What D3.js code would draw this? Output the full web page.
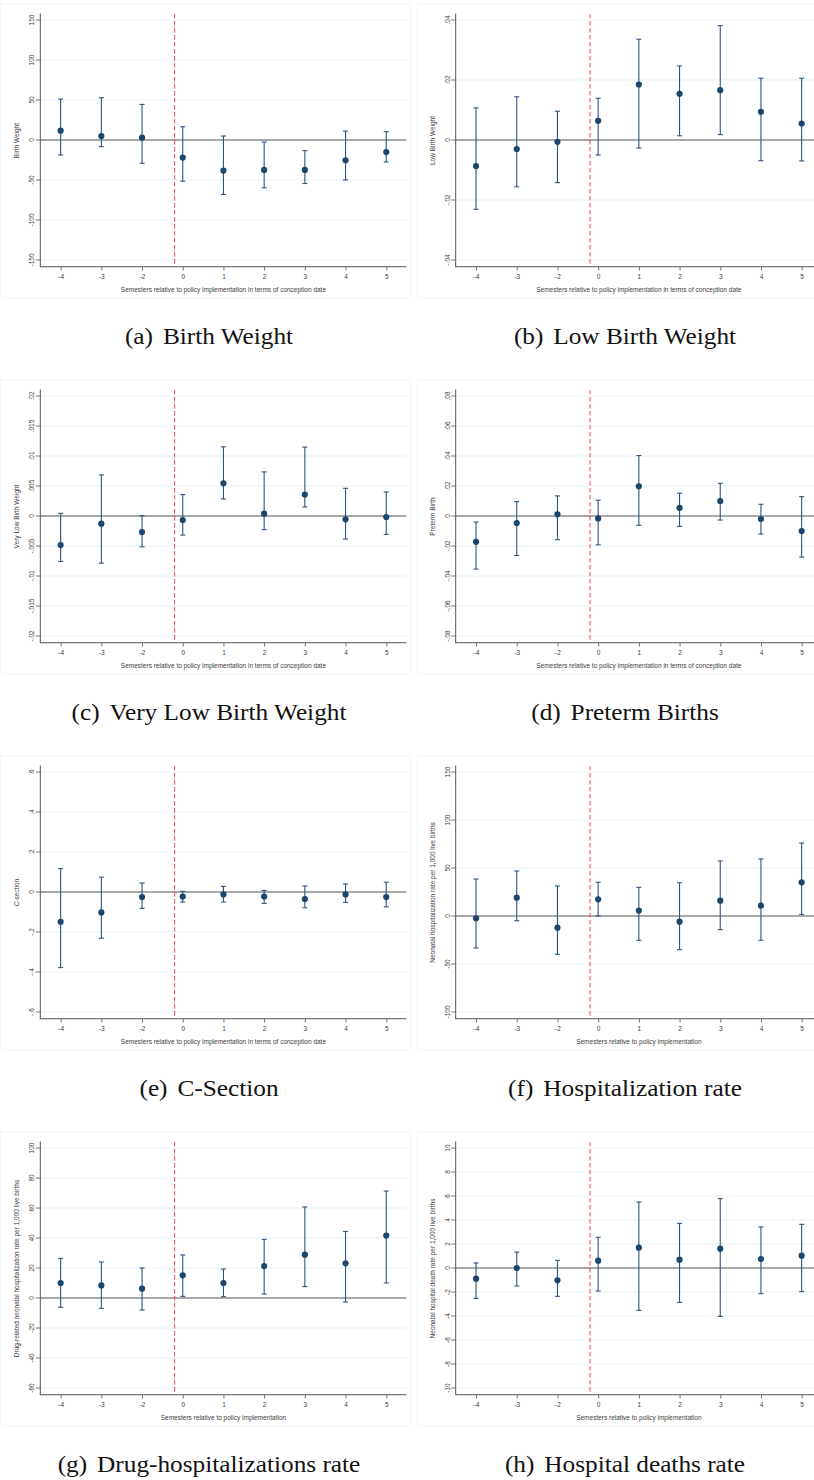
<!DOCTYPE html>
<html>
<head>
<meta charset="utf-8">
<script src="https://cdn.jsdelivr.net/npm/d3@7/dist/d3.min.js"></script>
<style>
  body { margin: 0; background: #fff; }
  svg text { font-family: "Liberation Sans", Arial, sans-serif; fill: #3d3d3d; }
  svg text.caption { font-family: "Liberation Serif", "Times New Roman", serif; fill: #111; }
</style>
</head>
<body>
<div id="fig"></div>
<script>
// event time categories (semesters)
let semesters = ["-4", "-3", "-2", "0", "1", "2", "3", "4", "5"];

// (a) Birth weight
let bwEst = [11.6, 5.0, 2.9, -22.0, -38.2, -37.4, -37.4, -25.3, -15.0];
let bwLo  = [-18.7, -8.3, -29.1, -51.5, -68.1, -59.8, -54.4, -49.9, -27.4];
let bwHi  = [51.1, 52.8, 44.5, 16.6, 5.0, -2.5, -13.3, 11.2, 10.4];
let bwTicks = [-150, -100, -50, 0, 50, 100, 150];
let bwLabels = ["-150", "-100", "-50", "0", "50", "100", "150"];

// (b) Low birth weight
let lbwEst = [-0.0087, -0.0030, -0.0006, 0.0064, 0.0185, 0.0154, 0.0166, 0.0094, 0.0055];
let lbwLo  = [-0.0231, -0.0156, -0.0142, -0.0050, -0.0027, 0.0014, 0.0018, -0.0069, -0.0070];
let lbwHi  = [0.0107, 0.0144, 0.0096, 0.0139, 0.0336, 0.0247, 0.0381, 0.0206, 0.0206];
let lbwTicks = [-0.04, -0.02, 0, 0.02, 0.04];
let lbwLabels = ["-.04", "-.02", "0", ".02", ".04"];

// (c) Very low birth weight
let vlbwEst = [-0.00485, -0.00128, -0.00267, -0.00067, 0.00546, 0.00039, 0.00357, -0.00056, -0.00017];
let vlbwLo  = [-0.00758, -0.00786, -0.00513, -0.00318, 0.00284, -0.00228, 0.00150, -0.00384, -0.00306];
let vlbwHi  = [0.00045, 0.00685, 0.00006, 0.00357, 0.01153, 0.00735, 0.01148, 0.00462, 0.00401];
let vlbwTicks = [-0.02, -0.015, -0.01, -0.005, 0, 0.005, 0.01, 0.015, 0.02];
let vlbwLabels = ["-.02", "-.015", "-.01", "-.005", "0", ".005", ".01", ".015", ".02"];

// (d) Preterm births
let ptEst = [-0.0172, -0.0047, 0.0011, -0.0016, 0.0198, 0.0054, 0.0100, -0.0020, -0.0100];
let ptLo  = [-0.0354, -0.0263, -0.0158, -0.0192, -0.0062, -0.0069, -0.0027, -0.0120, -0.0274];
let ptHi  = [-0.0040, 0.0096, 0.0134, 0.0105, 0.0403, 0.0152, 0.0218, 0.0078, 0.0129];
let ptTicks = [-0.08, -0.06, -0.04, -0.02, 0, 0.02, 0.04, 0.06, 0.08];
let ptLabels = ["-.08", "-.06", "-.04", "-.02", "0", ".02", ".04", ".06", ".08"];

// (e) C-section
let csEst = [-0.149, -0.102, -0.025, -0.023, -0.012, -0.023, -0.035, -0.012, -0.025];
let csLo  = [-0.378, -0.231, -0.082, -0.050, -0.050, -0.057, -0.079, -0.052, -0.074];
let csHi  = [0.117, 0.074, 0.045, 0.003, 0.028, 0.008, 0.030, 0.040, 0.049];
let csTicks = [-0.6, -0.4, -0.2, 0, 0.2, 0.4, 0.6];
let csLabels = ["-.6", "-.4", "-.2", "0", ".2", ".4", ".6"];

// (f) Hospitalization rate
let hospEst = [-2.4, 19.1, -12.2, 17.4, 5.6, -5.9, 16.0, 10.8, 35.1];
let hospLo  = [-33.3, -4.9, -39.9, 0.0, -25.3, -35.1, -14.2, -25.3, 1.7];
let hospHi  = [38.5, 46.9, 31.3, 35.1, 29.9, 34.7, 57.3, 59.4, 76.0];
let hospTicks = [-100, -50, 0, 50, 100, 150];
let hospLabels = ["-100", "-50", "0", "50", "100", "150"];

// (g) Drug-related hospitalization rate
let drugEst = [10.0, 8.4, 6.2, 15.1, 10.0, 21.3, 28.9, 23.1, 41.6];
let drugLo  = [-6.2, -6.9, -8.0, 1.1, 0.9, 2.7, 7.6, -2.7, 10.0];
let drugHi  = [26.4, 24.0, 20.0, 28.7, 19.3, 39.1, 60.7, 44.4, 71.3];
let drugTicks = [-60, -40, -20, 0, 20, 40, 60, 80, 100];
let drugLabels = ["-60", "-40", "-20", "0", "20", "40", "60", "80", "100"];

// (h) Hospital deaths rate
let deathEst = [-0.89, 0.0, -1.03, 0.61, 1.69, 0.69, 1.61, 0.75, 1.03];
let deathLo  = [-2.53, -1.50, -2.36, -1.92, -3.53, -2.86, -4.03, -2.14, -1.97];
let deathHi  = [0.42, 1.33, 0.64, 2.56, 5.50, 3.72, 5.78, 3.42, 3.64];
let deathTicks = [-10, -8, -6, -4, -2, 0, 2, 4, 6, 8, 10];
let deathLabels = ["-10", "-8", "-6", "-4", "-2", "0", "2", "4", "6", "8", "10"];

let xTitleLong = "Semesters relative to policy implementation in terms of conception date";
let xTitleShort = "Semesters relative to policy implementation";

let panels = [
  {est: bwEst, lo: bwLo, hi: bwHi, ticks: bwTicks, labels: bwLabels, ytitle: "Birth Weight", xtitle: xTitleLong, tag: "(a)", caption: "Birth Weight"},
  {est: lbwEst, lo: lbwLo, hi: lbwHi, ticks: lbwTicks, labels: lbwLabels, ytitle: "Low Birth Weight", xtitle: xTitleLong, tag: "(b)", caption: "Low Birth Weight"},
  {est: vlbwEst, lo: vlbwLo, hi: vlbwHi, ticks: vlbwTicks, labels: vlbwLabels, ytitle: "Very Low Birth Weight", xtitle: xTitleLong, tag: "(c)", caption: "Very Low Birth Weight"},
  {est: ptEst, lo: ptLo, hi: ptHi, ticks: ptTicks, labels: ptLabels, ytitle: "Preterm Birth", xtitle: xTitleLong, tag: "(d)", caption: "Preterm Births"},
  {est: csEst, lo: csLo, hi: csHi, ticks: csTicks, labels: csLabels, ytitle: "C-section", xtitle: xTitleLong, tag: "(e)", caption: "C-Section"},
  {est: hospEst, lo: hospLo, hi: hospHi, ticks: hospTicks, labels: hospLabels, ytitle: "Neonatal hospitalization rate per 1,000 live births", xtitle: xTitleShort, tag: "(f)", caption: "Hospitalization rate"},
  {est: drugEst, lo: drugLo, hi: drugHi, ticks: drugTicks, labels: drugLabels, ytitle: "Drug-related neonatal hospitalization rate per 1,000 live births", xtitle: xTitleShort, tag: "(g)", caption: "Drug-hospitalizations rate"},
  {est: deathEst, lo: deathLo, hi: deathHi, ticks: deathTicks, labels: deathLabels, ytitle: "Neonatal hospital death rate per 1,000 live births", xtitle: xTitleShort, tag: "(h)", caption: "Hospital deaths rate"}
];

let navy = "#1a476f";
let colLeft = [40.3, 455.7];
let captionX = [209, 625];
let rowTop = [0, 376, 752, 1128];
let plotW = 366.3;

//SVG
let svg = d3.select("#fig")
  .append("svg")
    .attr("width", 814)
    .attr("height", 1480);

svg.append("rect").attr("width", 814).attr("height", 1480).attr("fill", "#fff");

panels.forEach(function(p, i) {
  let col = i % 2, row = Math.floor(i / 2);
  let top = rowTop[row];

  // faint graph region outline
  svg.append("rect")
    .attr("x", col === 0 ? 0.5 : 417.5)
    .attr("y", top + 3.5)
    .attr("width", col === 0 ? 410 : 420)
    .attr("height", 294.5)
    .attr("fill", "none")
    .attr("stroke", "#f3f3f3")
    .attr("stroke-width", 0.8);

  let g = svg.append("g")
    .attr("transform", "translate(" + colLeft[col] + "," + top + ")");

  // X scale (categorical, evenly spaced)
  let x = d3.scalePoint()
    .domain(semesters)
    .range([0, plotW])
    .padding(0.5);

  // Y scale
  let y = d3.scaleLinear()
    .domain([p.ticks[0], p.ticks[p.ticks.length - 1]])
    .range([260, 20]);

  // gridlines
  g.append("g").selectAll("line")
    .data(p.ticks.filter(function(t) { return t !== 0; }))
    .enter().append("line")
      .attr("x1", 0).attr("x2", plotW)
      .attr("y1", function(d) { return y(d); })
      .attr("y2", function(d) { return y(d); })
      .attr("stroke", "#e3edf1")
      .attr("stroke-width", 0.8);

  // zero line
  g.append("line")
    .attr("x1", 0).attr("x2", plotW)
    .attr("y1", y(0)).attr("y2", y(0))
    .attr("stroke", "#3f3f3f")
    .attr("stroke-width", 0.9);

  // Y axis
  let yAxis = g.append("g")
    .call(d3.axisLeft(y)
      .tickValues(p.ticks)
      .tickFormat(function(d, k) { return p.labels[k]; })
      .tickSize(4.5)
      .tickSizeOuter(0));
  yAxis.select(".domain").remove();
  yAxis.selectAll("line").attr("stroke", "#555").attr("stroke-width", 0.8);
  yAxis.selectAll("text")
    .attr("x", null).attr("dy", null)
    .attr("transform", function(d) { return "translate(-8.6," + y(d) + ")rotate(-90)"; })
    .attr("y", 0)
    .attr("dominant-baseline", "central")
    .style("text-anchor", "middle")
    .style("font-size", "6.5px")
    .style("fill", "#3d3d3d");
  yAxis.selectAll(".tick").attr("transform", null);
  yAxis.selectAll(".tick line")
    .attr("y1", function(d) { return y(d); })
    .attr("y2", function(d) { return y(d); });

  // X axis
  let xAxis = g.append("g")
    .attr("transform", "translate(0,266.7)")
    .call(d3.axisBottom(x).tickSize(4).tickSizeOuter(0));
  xAxis.select(".domain").remove();
  xAxis.selectAll("line").attr("stroke", "#555").attr("stroke-width", 0.8);
  xAxis.selectAll("text")
    .attr("y", 10).attr("dy", "0.35em")
    .style("font-size", "6.5px")
    .style("fill", "#3d3d3d");

  // axis lines
  g.append("line")
    .attr("x1", 0).attr("x2", 0)
    .attr("y1", 13.5).attr("y2", 267.2)
    .attr("stroke", "#555").attr("stroke-width", 1);
  g.append("line")
    .attr("x1", 0).attr("x2", plotW)
    .attr("y1", 266.7).attr("y2", 266.7)
    .attr("stroke", "#555").attr("stroke-width", 1);

  // policy line between -2 and 0
  let xLine = x("-2") + 0.8 * x.step();
  g.append("line")
    .attr("x1", xLine).attr("x2", xLine)
    .attr("y1", 14).attr("y2", 266.2)
    .attr("stroke", "#f04848")
    .attr("stroke-width", 1)
    .attr("stroke-dasharray", "4.5,2.5");

  // Axis titles
  g.append("text")
    .attr("transform", "translate(-23.4,140.5)rotate(-90)")
    .attr("dominant-baseline", "central")
    .style("text-anchor", "middle")
    .style("font-size", "6.5px")
    .text(p.ytitle);
  g.append("text")
    .attr("x", plotW / 2)
    .attr("y", 289.5)
    .attr("dominant-baseline", "central")
    .style("text-anchor", "middle")
    .style("font-size", "6.5px")
    .text(p.xtitle);

  // Error bars
  let bars = g.append("g").selectAll("g")
    .data(semesters)
    .enter().append("g");
  bars.append("line")
    .attr("x1", function(d) { return x(d); })
    .attr("x2", function(d) { return x(d); })
    .attr("y1", function(d, k) { return y(p.lo[k]); })
    .attr("y2", function(d, k) { return y(p.hi[k]); })
    .attr("stroke", "#2d5380").attr("stroke-width", 1.1);
  bars.append("line")
    .attr("x1", function(d) { return x(d) - 2.5; })
    .attr("x2", function(d) { return x(d) + 2.5; })
    .attr("y1", function(d, k) { return y(p.lo[k]); })
    .attr("y2", function(d, k) { return y(p.lo[k]); })
    .attr("stroke", "#2d5380").attr("stroke-width", 1.1);
  bars.append("line")
    .attr("x1", function(d) { return x(d) - 2.5; })
    .attr("x2", function(d) { return x(d) + 2.5; })
    .attr("y1", function(d, k) { return y(p.hi[k]); })
    .attr("y2", function(d, k) { return y(p.hi[k]); })
    .attr("stroke", "#2d5380").attr("stroke-width", 1.1);

  // Point estimates
  g.append("g").selectAll("circle")
    .data(semesters)
    .enter().append("circle")
      .attr("cx", function(d) { return x(d); })
      .attr("cy", function(d, k) { return y(p.est[k]); })
      .attr("r", 3.1)
      .attr("fill", navy);

  // caption below each panel
  let cap = svg.append("text")
    .attr("class", "caption")
    .attr("transform", "translate(" + captionX[col] + "," + (top + 344) + ")scale(1.1,1)")
    .style("text-anchor", "middle")
    .style("font-size", "23px");
  cap.append("tspan").text(p.tag);
  cap.append("tspan").attr("dx", 9).text(p.caption);
});
</script>
</body>
</html>
